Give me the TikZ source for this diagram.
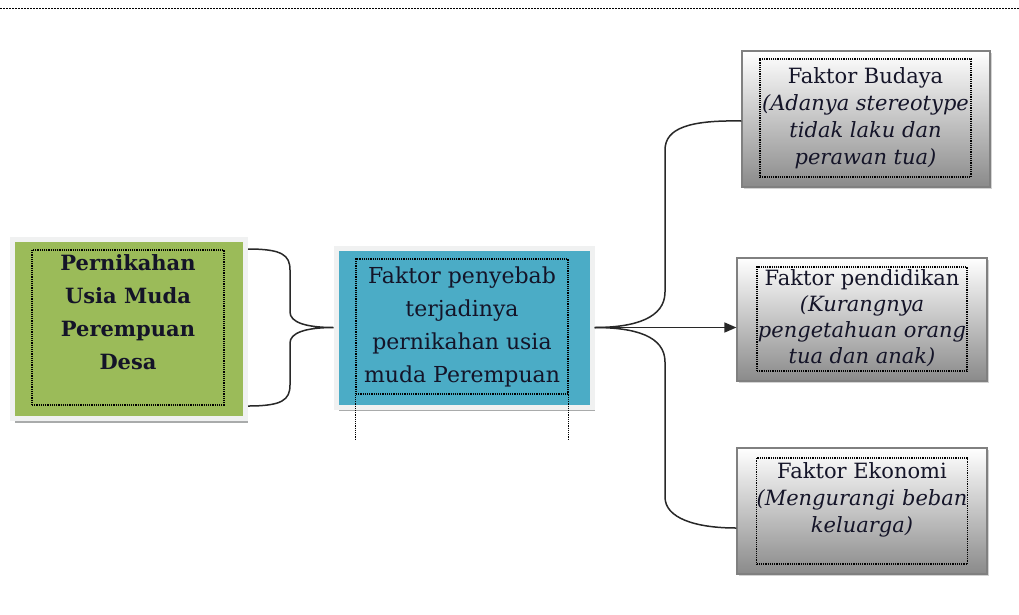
\documentclass[tikz,border=0pt]{standalone}
\usepackage{fontspec}
\setmainfont{DejaVu Serif}
\usetikzlibrary{arrows.meta,shadows}
\definecolor{clrG}{RGB}{155,187,89}
\definecolor{clrB}{RGB}{75,172,198}
\definecolor{clrF}{RGB}{240,241,241}
\definecolor{clrS}{RGB}{160,162,162}
\definecolor{clrL}{RGB}{40,40,40}
\definecolor{clrD}{RGB}{138,138,138}
\definecolor{clrT}{RGB}{20,20,40}
\tikzset{
  mainbox/.style={rectangle,fill=clrG,draw=clrF,line width=5pt,
    drop shadow={shadow xshift=2pt,shadow yshift=-5pt,fill=clrS,opacity=0.9}},
  causebox/.style={rectangle,fill=clrB,draw=clrF,line width=5pt,
    drop shadow={shadow xshift=3pt,shadow yshift=-4pt,fill=clrS,opacity=0.9}},
  factorbox/.style={rectangle,top color=white,bottom color=clrD,draw=gray,line width=1.2pt,
    drop shadow={shadow xshift=2pt,shadow yshift=-2pt,fill=gray,opacity=0.35}},
  dotbox/.style={rectangle,draw=black,line width=1.2pt,dash pattern=on 1.2pt off 1pt,
    inner xsep=0pt,inner ysep=2pt,align=center,text=clrT},
  dotline/.style={line width=1.2pt,dash pattern=on 1.2pt off 1pt},
  arrow/.style={-{Triangle[length=12pt,width=10pt]},line width=1.5pt,color=clrL},
  link/.style={line width=1.5pt,color=clrL}
}

\begin{document}
\begin{tikzpicture}[x=1pt,y=-1pt]
  \useasboundingbox (0,0) rectangle (1019,614);
  \draw[line width=1pt,dash pattern=on 2pt off 1pt] (0,8) -- (1019,8);
  % boxes
  \node[mainbox,minimum width=233pt,minimum height=179pt] (pernikahan) at (129,328.5) {};
  \node[causebox,minimum width=256pt,minimum height=159pt] (penyebab) at (464,327.5) {};
  \node[factorbox,minimum width=248pt,minimum height=136pt] (budaya) at (866,119) {};
  \node[factorbox,minimum width=250pt,minimum height=123pt] (pendidikan) at (862,319.5) {};
  \node[factorbox,minimum width=250pt,minimum height=126pt] (ekonomi) at (862,511) {};
  % texts
  \node[dotbox,minimum width=192pt,minimum height=155pt,text depth=30pt,
    font=\fontsize{21}{33}\selectfont\bfseries] (pernikahantxt) at (128,327.5)
    {Pernikahan\\Usia Muda\\Perempuan\\Desa};
  \node[dotbox,minimum width=212pt,minimum height=135pt,
    font=\fontsize{22}{33}\selectfont] (penyebabtxt) at (462,326.5)
    {Faktor penyebab\\terjadinya\\pernikahan usia\\muda Perempuan};
  \node[dotbox,minimum width=211pt,minimum height=118pt,
    font=\fontsize{21}{27}\selectfont] (budayatxt) at (865.5,118)
    {Faktor Budaya\\\itshape(Adanya stereotype\\\itshape tidak laku dan\\\itshape perawan tua)};
  \node[dotbox,minimum width=210pt,minimum height=104pt,text depth=4pt,
    font=\fontsize{21}{26}\selectfont] (pendidikantxt) at (862,319)
    {Faktor pendidikan\\\itshape(Kurangnya\\\itshape pengetahuan orang\\\itshape tua dan anak)};
  \node[dotbox,minimum width=210pt,minimum height=106pt,text depth=26pt,
    font=\fontsize{21}{27}\selectfont] (ekonomitxt) at (862,511)
    {Faktor Ekonomi\\\itshape(Mengurangi beban\\\itshape keluarga)};
  \draw[dotline] (penyebabtxt.south west) -- ++(0,46);
  \draw[dotline] (penyebabtxt.south east) -- ++(0,46);
  % connectors
  \coordinate (bracetop) at (248,249);
  \coordinate (bracebot) at (248,406);
  \draw[link] (bracetop) .. controls (282,249) and (290,255) .. (290,270) -- (290,312)
    .. controls (290,322) and (305,327.5) .. (penyebab.west)
    .. controls (305,327.5) and (290,333) .. (290,343) -- (290,385)
    .. controls (290,400) and (282,406) .. (bracebot);
  \draw[link] (penyebab.east) .. controls (635,327.5) and (665,318) .. (665,292) -- (665,150)
    .. controls (665,128) and (690,120) .. ([yshift=-2pt]budaya.west);
  \draw[link] (penyebab.east) .. controls (635,327.5) and (665,336) .. (665,362) -- (665,497)
    .. controls (665,518) and (695,528) .. ([yshift=-17pt]ekonomi.west);
  \draw[arrow] (penyebab.east) -- (penyebab.east -| pendidikan.west);
\end{tikzpicture}
\end{document}
